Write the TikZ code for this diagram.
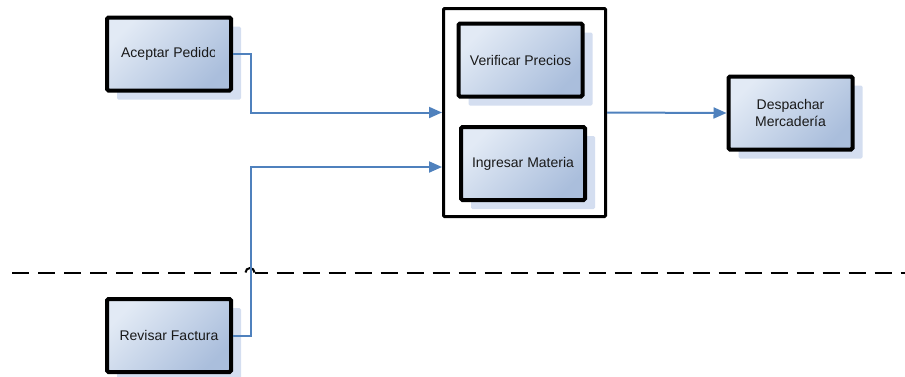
\documentclass[tikz,border=0pt]{standalone}
\usepackage{fontspec}
\setmainfont{Liberation Sans}
\usepackage{trimclip}
\usetikzlibrary{arrows.meta,shadows}
\definecolor{flowblue}{RGB}{79,129,189}
\definecolor{boxlight}{RGB}{226,234,245}
\definecolor{boxdark}{RGB}{170,190,220}
\definecolor{shadowblue}{RGB}{212,222,240}
\definecolor{labelgray}{RGB}{25,25,25}
\tikzset{
  task/.style={rectangle, rounded corners=1.5pt, draw=black, line width=4pt,
    minimum width=124pt, minimum height=73pt, inner sep=2pt, align=center,
    top color=boxlight, bottom color=boxdark, shading angle=45,
    text=labelgray, font=\fontsize{14}{16.5}\selectfont,
    general shadow={shadow xshift=10pt, shadow yshift=-9pt, fill=shadowblue, draw=none}},
  group/.style={rectangle, rounded corners=1pt, draw=black, line width=3pt, fill=white,
    minimum width=162pt, minimum height=208pt, inner sep=0pt},
  flow/.style={draw=flowblue, line width=2pt,
    -{Triangle[length=13pt,width=11pt]}},
  lane/.style={draw=black, line width=2pt, dash pattern=on 17pt off 9pt}
}
\begin{document}
\begin{tikzpicture}[x=1pt,y=-1pt]
  \useasboundingbox (0,0) rectangle (905,376);

  % swimlane separator, hopping over the connector
  \draw[lane] (12,272.5) -- (245.5,272.5);
  \draw[draw=black, line width=2pt] (245.5,272.5) arc[start angle=180, end angle=360, radius=4.5];
  \draw[lane, dash phase=4pt] (254.5,272.5) -- (905,272.5);

  % grouped activities
  \node[group] (grupo) at (524.5,112.5) {};
  \node[task] (verificar) at (520.5,60) {Verificar Precios};
  \node[task] (ingresar) at (523,163.5) {Ingresar Materia};

  % single activities (the first label is cut off by its text frame)
  \node[task] (aceptar) at (169,54) {\clipbox{0pt 0pt 2pt 0pt}{Aceptar Pedido}\hspace{2pt}};
  \node[task] (revisar) at (169,335.5) {Revisar Factura};
  \node[task] (despachar) at (790.5,113) {Despachar\\Mercadería};

  % connectors
  \coordinate (entrada2) at ([yshift=-54.5pt]grupo.west);
  \draw[flow] (aceptar.east) -- ++(18,0) |- (grupo.west);
  \draw[flow] (revisar.east) -- ++(18,0) |- (entrada2);
  \draw[flow] (grupo.east) -- (despachar.west);
\end{tikzpicture}
\end{document}
